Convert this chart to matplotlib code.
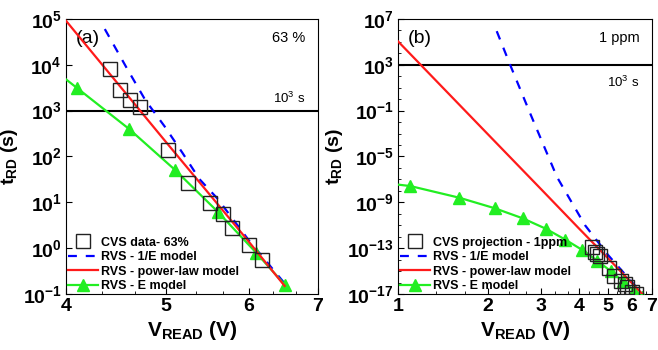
import numpy as np
import matplotlib
matplotlib.use('Agg')
import matplotlib.pyplot as plt
from matplotlib.ticker import FixedLocator, FuncFormatter, NullFormatter

plt.rcParams['font.family'] = ['Liberation Sans', 'DejaVu Sans']
plt.rcParams['mathtext.fontset'] = 'custom'
plt.rcParams['mathtext.rm'] = 'Liberation Sans'
plt.rcParams['mathtext.bf'] = 'Liberation Sans:bold'
plt.rcParams['mathtext.it'] = 'Liberation Sans:italic'

# ---------------- panel (a): 63 % ----------------
a_cvs_v = [4.41, 4.51, 4.61, 4.71, 5.02, 5.25, 5.51, 5.67, 5.78, 6.01, 6.18]
a_cvs_t = [7.9e3, 2.75e3, 1.7e3, 1.2e3, 140, 26, 9.5, 5.5, 2.7, 1.2, 0.55]

a_inv_v = [4.36, 4.58, 4.77, 4.98, 5.18, 5.38, 5.6, 6.0, 6.5]
a_inv_t = [6.0e4, 8.3e3, 1.7e3, 450, 120, 32, 12, 1.5, 0.17]

a_pow_v = [4.0, 4.5, 5.0, 5.5, 6.0, 6.5]
a_pow_t = [9.1e4, 3.6e3, 200, 15, 1.4, 0.15]

a_e_v = [4.0, 4.1, 4.6, 5.1, 5.6, 6.1, 6.5]
a_e_t = [4.8e3, 3.1e3, 400, 50, 6.3, 0.8, 0.16]

# ---------------- panel (b): 1 ppm ----------------
b_cvs_v = [4.41, 4.51, 4.61, 4.71, 5.02, 5.25, 5.51, 5.67, 5.78, 6.01, 6.18]
b_cvs_t = [1.3e-13, 4.5e-14, 2.8e-14, 2e-14, 2e-15, 4e-16, 1.3e-16, 8e-17, 4e-17, 1.6e-17, 1e-17]

b_inv_v = [2.13, 2.36, 2.75, 3.38, 4.19, 5.0, 6.5]
b_inv_t = [8.5e5, 1e3, 6e-2, 1.6e-7, 1e-11, 2.5e-14, 1e-17]

b_pow_v = [1.0, 2.0, 3.0, 4.0, 5.0, 6.0, 6.5]
b_pow_t = [1.1e5, 7.6e-4, 1.3e-8, 5.2e-12, 1.3e-14, 8.9e-17, 1.0e-17]

b_e_v = [1.0, 1.1, 1.6, 2.1, 2.6, 3.1, 3.6, 4.1, 4.6, 5.1, 5.6, 6.1, 6.5]
b_e_t = [3.5e-8, 2.6e-8, 2.5e-9, 3e-10, 4e-11, 5e-12, 5.6e-13, 7e-14, 8e-15, 1e-15, 1.3e-16, 2e-17, 6e-18]

fig = plt.figure(figsize=(6.58, 3.5), dpi=100)
ax1 = fig.add_axes([0.1003, 0.16, 0.383, 0.786])
ax2 = fig.add_axes([0.6049, 0.16, 0.386, 0.786])

red = '#ff1a1a'
green = '#22ee22'
blue = '#0000ff'


def sci(val, pos):
    return r'$\mathbf{10^{%d}}$' % int(round(np.log10(val)))


def draw(ax, cvs_v, cvs_t, cvs_lab, inv_v, inv_t, pow_v, pow_t, e_v, e_t):
    ax.plot(cvs_v, cvs_t, ls='none', marker='s', ms=10, mfc='none', mec='#222222', mew=1.0,
            label=cvs_lab, zorder=5)
    ax.plot(inv_v, inv_t, color=blue, lw=1.6, ls=(0, (4, 4)), label='RVS - 1/E model', zorder=3)
    ax.plot(pow_v, pow_t, color=red, lw=1.6, label='RVS - power-law model', zorder=4)
    ax.plot(e_v, e_t, color=green, lw=1.6, marker='^', ms=9, markevery=slice(1, None),
            label='RVS - E model', zorder=3)
    ax.axhline(1e3, color='black', lw=1.5, zorder=2)
    ax.set_xscale('log')
    ax.set_yscale('log')
    ax.tick_params(which='both', direction='in', top=False, right=False)
    ax.tick_params(which='major', length=4, labelsize=14, pad=3)
    ax.tick_params(which='minor', length=2)
    ax.set_xlabel(r'$\mathbf{V_{READ}}$ (V)', fontsize=15, fontweight='bold', labelpad=3)
    ax.set_ylabel(r'$\mathbf{t_{RD}}$ (s)', fontsize=14, fontweight='bold', labelpad=2)
    leg = ax.legend(loc='lower left', frameon=False, prop={'weight': 'bold', 'size': 9},
                    handlelength=2.4, labelspacing=0.2, handletextpad=0.25,
                    borderaxespad=0.0, borderpad=0.15, bbox_to_anchor=(0.0, 0.0))
    return leg


draw(ax1, a_cvs_v, a_cvs_t, 'CVS data- 63%', a_inv_v, a_inv_t, a_pow_v, a_pow_t, a_e_v, a_e_t)
ax1.set_xlim(4, 7)
ax1.set_ylim(1e-1, 1e5)
ax1.xaxis.set_major_locator(FixedLocator([4, 5, 6, 7]))
ax1.xaxis.set_minor_locator(FixedLocator([4.333, 4.667, 5.333, 5.667, 6.333, 6.667]))
ax1.xaxis.set_major_formatter(FuncFormatter(lambda v, p: r'$\mathbf{%d}$' % round(v)))
ax1.xaxis.set_minor_formatter(NullFormatter())
ax1.yaxis.set_major_locator(FixedLocator([10.0 ** k for k in range(-1, 6)]))
ax1.yaxis.set_minor_locator(FixedLocator([]))
ax1.yaxis.set_major_formatter(FuncFormatter(sci))
ax1.text(0.04, 0.93, '(a)', transform=ax1.transAxes, fontsize=14, va='center', ha='left')
ax1.text(0.95, 0.93, '63 %', transform=ax1.transAxes, fontsize=10.5, va='center', ha='right')
ax1.text(0.95, 0.71, r'$\mathrm{10^3}$ s', transform=ax1.transAxes, fontsize=9.5, va='center', ha='right')

draw(ax2, b_cvs_v, b_cvs_t, 'CVS projection - 1ppm', b_inv_v, b_inv_t, b_pow_v, b_pow_t, b_e_v, b_e_t)
ax2.set_xlim(1, 7)
ax2.set_ylim(1e-17, 1e7)
ax2.xaxis.set_major_locator(FixedLocator([1, 2, 3, 4, 5, 6, 7]))
ax2.xaxis.set_minor_locator(FixedLocator([1.333, 1.667, 2.333, 2.667, 3.333, 3.667,
                                          4.333, 4.667, 5.333, 5.667, 6.333, 6.667]))
ax2.xaxis.set_major_formatter(FuncFormatter(lambda v, p: r'$\mathbf{%d}$' % round(v)))
ax2.xaxis.set_minor_formatter(NullFormatter())
ax2.yaxis.set_major_locator(FixedLocator([10.0 ** k for k in range(-17, 8, 4)]))
ax2.yaxis.set_minor_locator(FixedLocator([10.0 ** k for k in range(-17, 8)]))
ax2.yaxis.set_major_formatter(FuncFormatter(sci))
ax2.yaxis.set_minor_formatter(NullFormatter())
ax2.text(0.04, 0.93, '(b)', transform=ax2.transAxes, fontsize=14, va='center', ha='left')
ax2.text(0.95, 0.93, '1 ppm', transform=ax2.transAxes, fontsize=10.5, va='center', ha='right')
ax2.text(0.95, 0.77, r'$\mathrm{10^3}$ s', transform=ax2.transAxes, fontsize=9.5, va='center', ha='right')

fig.savefig('out.png', dpi=100)
